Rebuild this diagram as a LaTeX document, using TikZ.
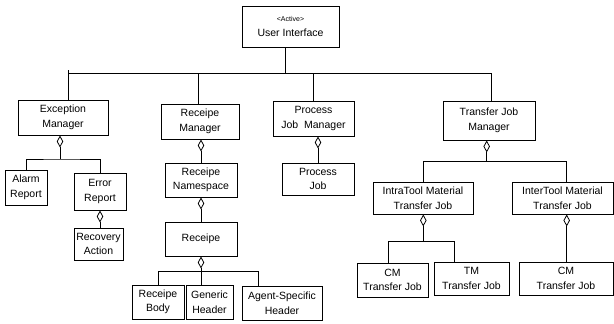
\documentclass[tikz,border=0pt]{standalone}
\usepackage{fontspec}
\setmainfont{Liberation Sans}
\usetikzlibrary{arrows.meta}
\begin{document}
\begin{tikzpicture}[x=1pt,y=-1pt,line width=0.9pt,
  box/.style={draw, rectangle, inner sep=0pt, align=center,
    font=\fontsize{10.5}{14.5}\selectfont},
  agg/.style={-{Diamond[open,length=12pt,width=6.5pt,line width=0.8pt]}}]
\useasboundingbox (0,0) rectangle (614,324);

% classes
\node[box, minimum width=97, minimum height=41] (ui) at (290.5,26.5)
  {{\fontsize{7}{8}\selectfont <Active>}\\[0pt]User Interface};
\node[box, minimum width=90, minimum height=35] (em) at (63,117.5) {Exception\\Manager};
\node[box, minimum width=78, minimum height=35] (rm) at (200,121.5) {Receipe\\Manager};
\node[box, minimum width=81, minimum height=35] (pjm) at (313.5,118.5) {Process\\Job~~Manager};
\node[box, minimum width=92, minimum height=39] (tjm) at (489,120.5) {Transfer Job\\Manager};

\node[box, minimum width=42, minimum height=35] (ar) at (26,187.5) {Alarm\\Report};
\node[box, minimum width=52, minimum height=37] (er) at (100,191.5) {Error\\Report};
\node[box, minimum width=49, minimum height=32] (ra) at (98.5,244) {Recovery\\Action};

\node[box, minimum width=72, minimum height=34] (rn) at (201,180) {Receipe\\Namespace};
\node[box, minimum width=72, minimum height=34] (r) at (201,239) {Receipe};
\node[box, minimum width=52, minimum height=34] (rb) at (158,302) {Receipe\\Body};
\node[box, minimum width=47, minimum height=34] (gh) at (209.5,302) {Generic\\Header};
\node[box, minimum width=80, minimum height=34] (ash) at (282,303) {Agent-Specific\\Header};

\node[box, minimum width=72, minimum height=32] (pj) at (318,179) {Process\\Job};

\node[box, minimum width=100, minimum height=32] (intra) at (423,198) {IntraTool Material\\Transfer Job};
\node[box, minimum width=101, minimum height=32] (inter) at (562.5,198) {InterTool Material\\Transfer Job};
\node[box, minimum width=71, minimum height=34] (cm1) at (392.5,280) {CM\\Transfer Job};
\node[box, minimum width=75, minimum height=33] (tm) at (471.5,278.5) {TM\\Transfer Job};
\node[box, minimum width=94, minimum height=33] (cm2) at (566,278.5) {CM\\Transfer Job};

% junction points
\coordinate (uib) at (285,73);
\coordinate (busl) at (68,70);
\coordinate (busll) at (68,73);
\coordinate (busr) at (491.7,73);
\coordinate (bus2) at (198.3,73);
\coordinate (bus3) at (313.3,73);
\coordinate (emj) at (60,159);
\coordinate (rj) at (201,271.7);
\coordinate (rjl) at (158.3,271.7);
\coordinate (rjr) at (258.3,271.7);
\coordinate (tj) at (486.7,161.3);
\coordinate (tjl) at (423.3,161.3);
\coordinate (tjr) at (566.7,161.3);
\coordinate (ij) at (423.3,241);
\coordinate (ijl) at (388.3,241);
\coordinate (ijr) at (454.3,241);

% top-level bus
\draw (ui.south -| uib) -- (uib);
\draw (busll) -- (busr) -- (tjm.north -| busr);
\draw (busl) -- (em.north -| busl);
\draw (bus2) -- (rm.north -| bus2);
\draw (bus3) -- (pjm.north -| bus3);

% exception manager
\draw[agg] (emj) -- (em.south -| emj);
\draw (ar.north) |- (emj) -| (er.north);
\draw[agg] (ra.north -| 100,0) -- (er.south);

% receipe manager
\draw[agg] (rn.north) -- (rm.south -| rn.north);
\draw[agg] (r.north) -- (rn.south);
\draw[agg] (rj) -- (r.south);
\draw (rb.north -| rjl) -- (rjl) -- (rjr) -- (ash.north -| rjr);
\draw (rj) -- (gh.north -| rj);

% process job manager
\draw[agg] (pj.north) -- (pjm.south -| pj.north);

% transfer job manager
\draw[agg] (tj) -- (tjm.south -| tj);
\draw (intra.north -| tjl) -- (tjl) -- (tjr) -- (inter.north -| tjr);
\draw[agg] (ij) -- (intra.south -| ij);
\draw (cm1.north -| ijl) -- (ijl) -- (ijr) -- (tm.north -| ijr);
\draw[agg] (cm2.north -| tjr) -- (inter.south -| tjr);
\end{tikzpicture}
\end{document}
